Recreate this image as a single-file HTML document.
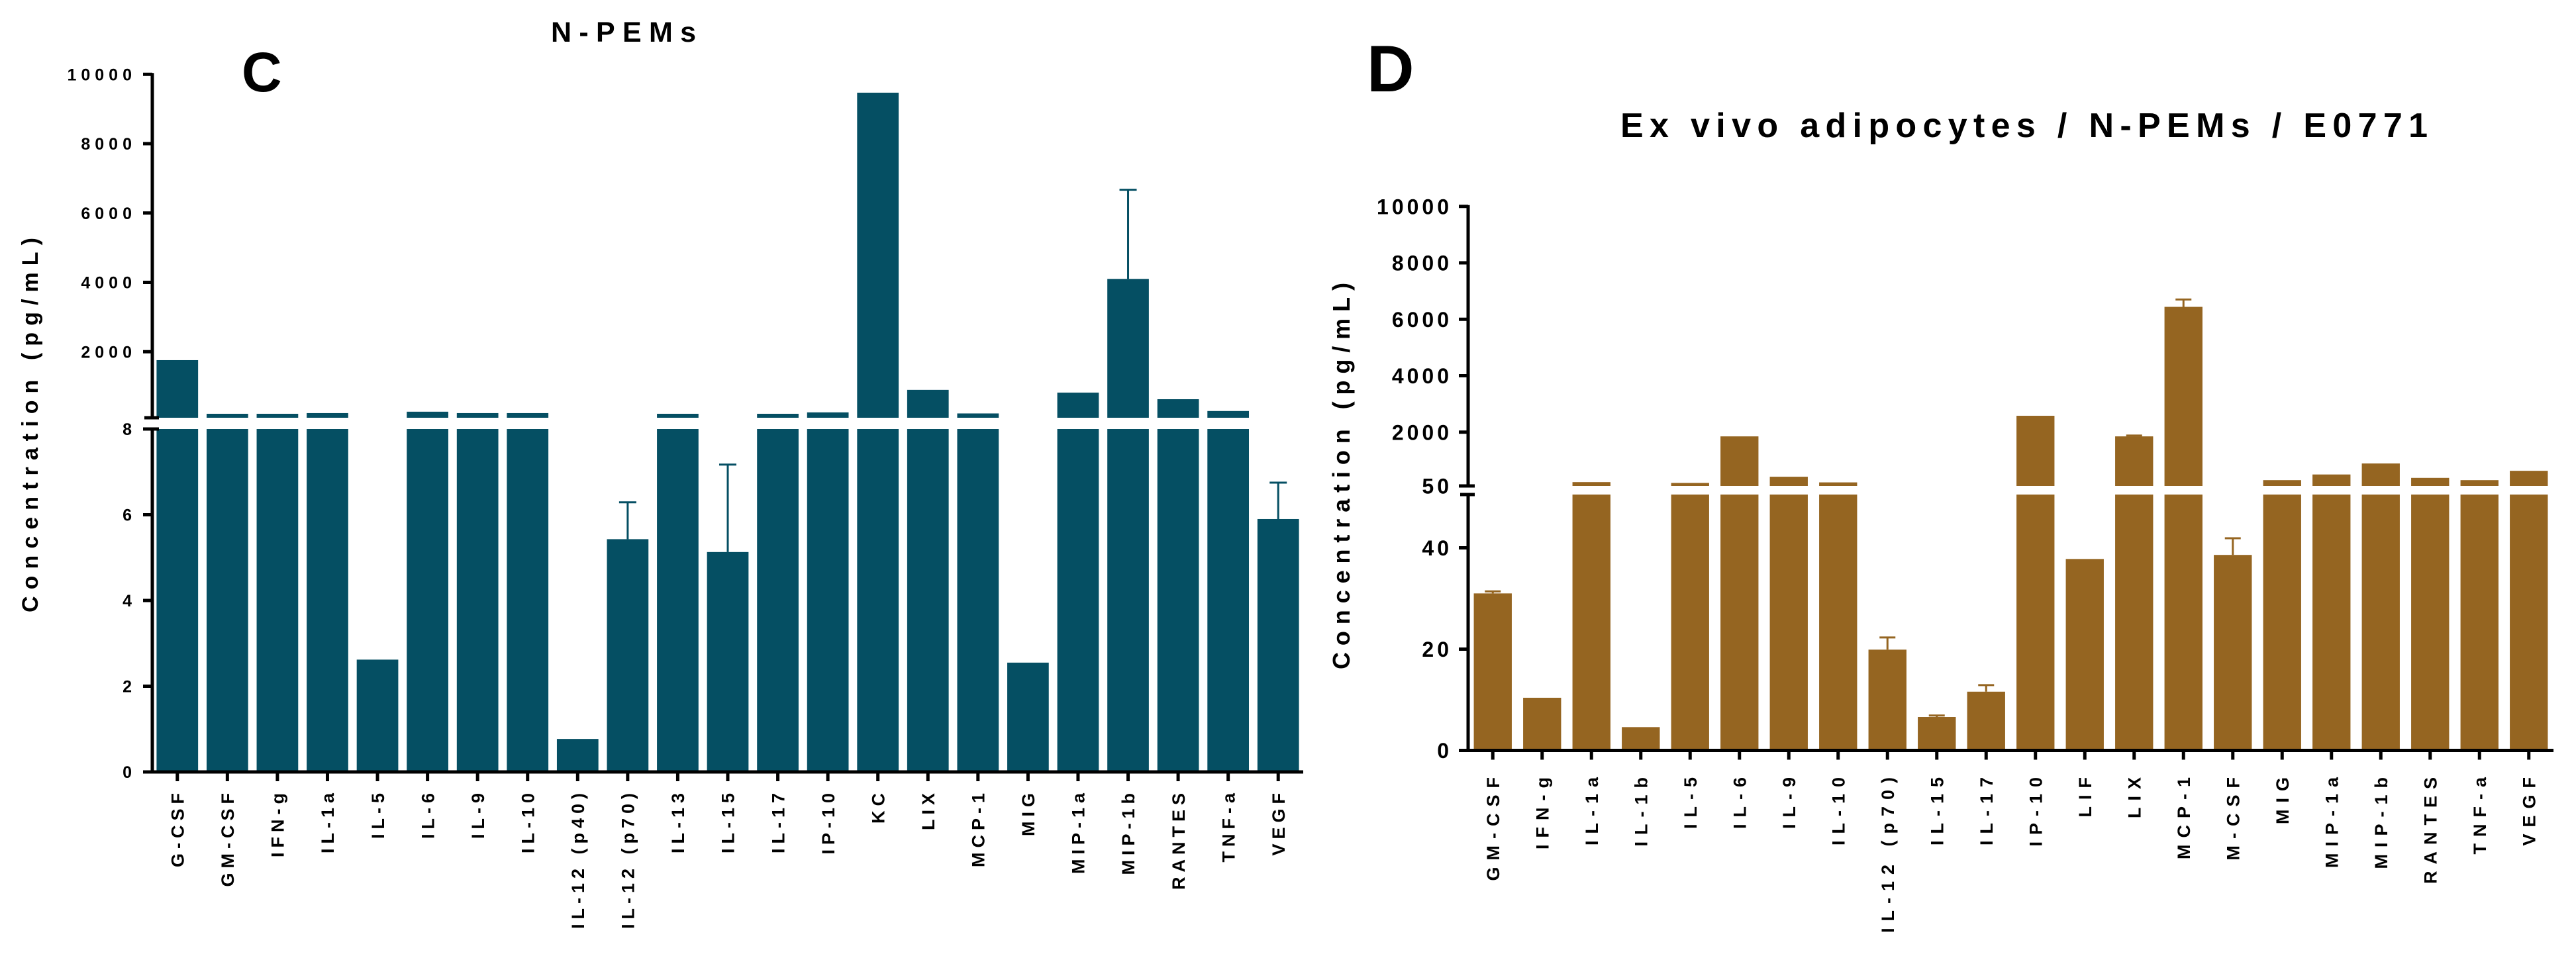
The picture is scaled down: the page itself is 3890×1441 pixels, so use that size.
<!DOCTYPE html>
<html><head><meta charset="utf-8"><style>
html,body{margin:0;padding:0;background:#fff;}
svg{display:block;font-family:"Liberation Sans",Arial,sans-serif;font-weight:bold;}
</style></head><body>
<svg id="fig" width="3890" height="1441" viewBox="0 0 3890 1441" xmlns="http://www.w3.org/2000/svg">
<rect width="3890" height="1441" fill="#fff"/>
<text x="365" y="138" font-size="84" fill="#000">C</text>
<text x="832" y="63" font-size="43" textLength="219" lengthAdjust="spacing" fill="#000">N-PEMs</text>
<text transform="translate(57,642) rotate(-90)" text-anchor="middle" font-size="34" textLength="566" lengthAdjust="spacing" fill="#000">Concentration (pg/mL)</text>
<text x="2064" y="138" font-size="99" fill="#000">D</text>
<text x="2447" y="207" font-size="52" textLength="1219" lengthAdjust="spacing" fill="#000">Ex vivo adipocytes / N-PEMs / E0771</text>
<text transform="translate(2038,719) rotate(-90)" text-anchor="middle" font-size="36" textLength="584" lengthAdjust="spacing" fill="#000">Concentration (pg/mL)</text>
<g id="chartC"></g>
<g id="chartD"></g>
</svg>
<script>
const cCategories = ["G-CSF","GM-CSF","IFN-g","IL-1a","IL-5","IL-6","IL-9","IL-10","IL-12 (p40)","IL-12 (p70)","IL-13","IL-15","IL-17","IP-10","KC","LIX","MCP-1","MIG","MIP-1a","MIP-1b","RANTES","TNF-a","VEGF"];
const cValues = [1757,210,210,230,2.62,270,230,230,0.77,5.43,210,5.13,210,250,9470,900,220,2.55,820,4100,630,290,5.9];
const cErrTop = [null,null,null,null,null,null,null,null,null,6.29,null,7.17,null,null,null,null,null,null,null,6670,null,null,6.75];
const cUpperTicks = [2000,4000,6000,8000,10000];
const cLowerTicks = [0,2,4,6,8];

const dCategories = ["GM-CSF","IFN-g","IL-1a","IL-1b","IL-5","IL-6","IL-9","IL-10","IL-12 (p70)","IL-15","IL-17","IP-10","LIF","LIX","MCP-1","M-CSF","MIG","MIP-1a","MIP-1b","RANTES","TNF-a","VEGF"];
const dValues = [31.0,10.4,230,4.6,200,1850,420,220,19.9,6.6,11.6,2580,37.8,1850,6440,38.6,300,500,890,380,300,630];
const dErrTop = [31.4,null,null,null,null,null,null,null,22.3,6.9,12.9,null,null,1880,6700,41.9,null,null,null,null,null,null];
const dUpperTicks = [50,2000,4000,6000,8000,10000];
const dLowerTicks = [0,20,40];

const NS = "http://www.w3.org/2000/svg";
function mk(parent, tag, attrs){
  const e = document.createElementNS(NS, tag);
  for (const k in attrs) e.setAttribute(k, attrs[k]);
  parent.appendChild(e);
  return e;
}

function drawChart(g, cfg, cats, vals, errs, upTicks, loTicks){
  const band = (cfg.xEnd - cfg.x0) / cats.length;
  const xC = i => cfg.x0 + band*(i+0.5);
  const yU = v => cfg.uZero - v*cfg.uScale;
  const yL = v => cfg.lZero - v*cfg.lScale;
  const bw = band*cfg.barFrac;
  cats.forEach((c,i)=>{
    const v = vals[i];
    const x = xC(i)-bw/2;
    const lt = v > cfg.lMax ? cfg.lTop : yL(v);
    const b = mk(g,'rect',{x:x,y:lt,width:bw,height:cfg.lZero-lt,fill:cfg.color});
    
    
    let top = lt;
    if (v > cfg.lMax){
      const ut = Math.min(yU(v), cfg.uBottom-2);
      const u = mk(g,'rect',{x:x,y:ut,width:bw,height:cfg.uBottom-ut,fill:cfg.color});
      
      
      top = ut;
    }
    if (errs[i] != null){
      const ev = errs[i];
      const ey = ev > cfg.lMax ? yU(ev) : yL(ev);
      const eg = mk(g,'g',{stroke:cfg.color,'stroke-width':3});
      
      
      mk(eg,'line',{x1:xC(i),x2:xC(i),y1:top,y2:ey});
      mk(eg,'line',{x1:xC(i)-cfg.cap,x2:xC(i)+cfg.cap,y1:ey,y2:ey});
    }
    const tk = mk(g,'line',{x1:xC(i),x2:xC(i),y1:cfg.lZero,y2:cfg.lZero+14,stroke:'#000','stroke-width':5});
    
    
    const t = mk(g,'text',{transform:`translate(${xC(i)+cfg.xfs*0.36},${cfg.labTop}) rotate(-90)`,'text-anchor':'end','font-size':cfg.xfs,'letter-spacing':cfg.xls,fill:'#000'});
    t.textContent = c;
    
    
  });
  const ax = mk(g,'g',{stroke:'#000','stroke-width':5,fill:'none'});
  
  
  mk(ax,'line',{x1:cfg.x0,x2:cfg.x0,y1:yU(upTicks[upTicks.length-1])-2,y2:cfg.uBottom});
  mk(ax,'line',{x1:cfg.x0,x2:cfg.x0,y1:cfg.lTop,y2:cfg.lZero+2});
  mk(ax,'line',{x1:cfg.x0-2,x2:cfg.xEnd,y1:cfg.lZero,y2:cfg.lZero});
  mk(ax,'line',{x1:cfg.x0-12,x2:cfg.x0+10,y1:cfg.uBottom,y2:cfg.uBottom});
  mk(ax,'line',{x1:cfg.x0-12,x2:cfg.x0+10,y1:cfg.lTop,y2:cfg.lTop});
  const tickLab = (v,y)=>{
    mk(ax,'line',{x1:cfg.x0-14,x2:cfg.x0,y1:y,y2:y});
    const t = mk(g,'text',{x:cfg.x0-cfg.labGap,y:y+cfg.yfs*0.36,'text-anchor':'end','font-size':cfg.yfs,'letter-spacing':cfg.yls,fill:'#000'});
    t.textContent = v;
    
    
  };
  upTicks.forEach(v=>tickLab(v, v<=cfg.lMax+50 && v<cfg.uMinLabel ? cfg.uBottom : yU(v)));
  loTicks.forEach(v=>tickLab(v, yL(v)));
}

drawChart(document.getElementById('chartC'),
  {x0:230,xEnd:1968,uZero:636,uScale:104.75/2000,uBottom:631,lTop:648,lZero:1166,lScale:64.75,lMax:8,
   barFrac:0.83,color:'#054F63',cap:13,labTop:1191,xfs:27,xls:7,yfs:25,yls:7,labGap:24,uMinLabel:0},
  cCategories,cValues,cErrTop,cUpperTicks,cLowerTicks);
drawChart(document.getElementById('chartD'),
  {x0:2217,xEnd:3856,uZero:738,uScale:85.25/2000,uBottom:734,lTop:747,lZero:1133.5,lScale:7.65,lMax:51,
   barFrac:0.77,color:'#956521',cap:12,labTop:1164,xfs:27,xls:10,yfs:32,yls:5,labGap:24,uMinLabel:100},
  dCategories,dValues,dErrTop,dUpperTicks,dLowerTicks);
</script>
</body></html>
